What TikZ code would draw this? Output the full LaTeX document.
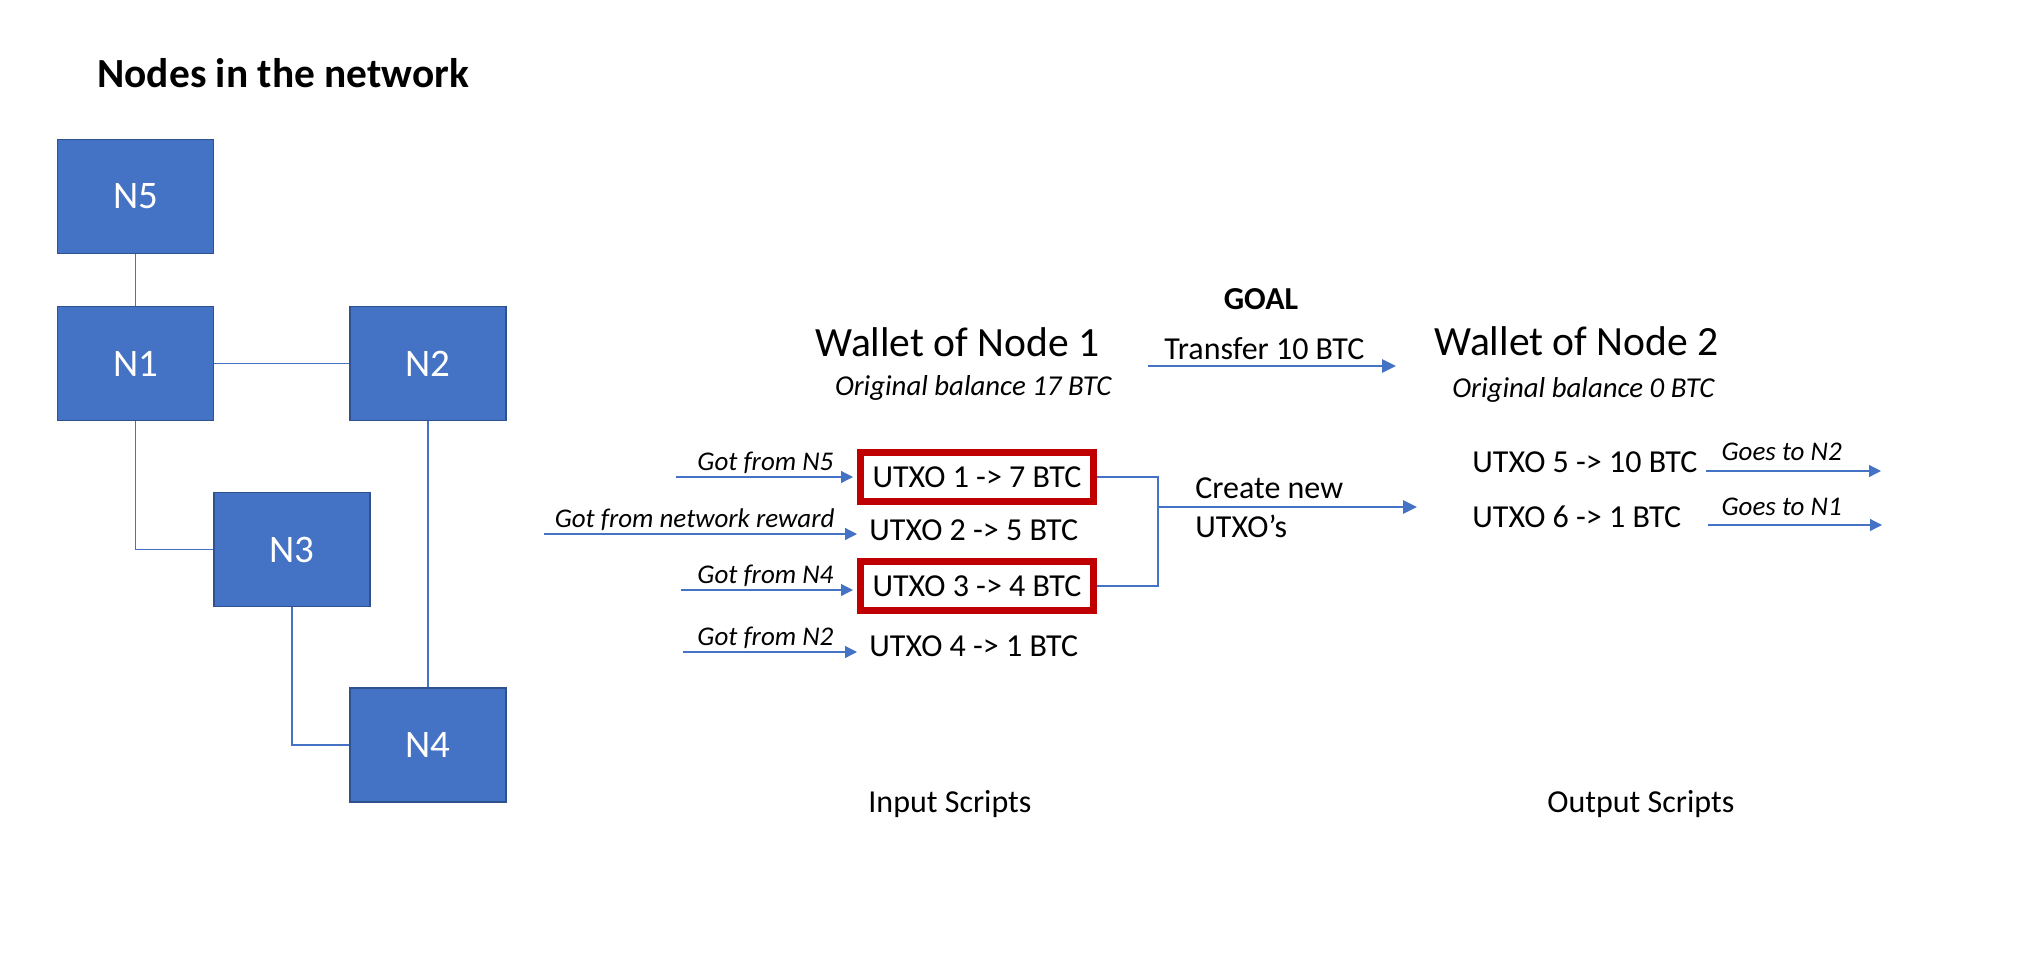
\documentclass[tikz,border=0pt]{standalone}
\usepackage{fontspec}
\setmainfont{Carlito}
\usetikzlibrary{arrows.meta,calc}
\definecolor{netblue}{HTML}{4472C4}
\definecolor{netedge}{HTML}{2F528F}
\definecolor{utxored}{HTML}{C00000}
\newcommand{\fsz}[1]{\fontsize{#1pt}{#1pt}\selectfont}

\begin{document}
\begin{tikzpicture}[x=0.5pt, y=-0.5pt,
    netbox/.style={rectangle, fill=netblue, draw=netedge, line width=0.6pt, minimum width=78pt, minimum height=57pt, text=white, font=\fsz{19.5}},
    netline/.style={netblue, line width=0.6pt},
    utxo/.style={anchor=west, inner xsep=6pt, inner ysep=0pt, minimum height=24.5pt, font=\fsz{16}},
    redbox/.style={draw=utxored, line width=3.5pt},
    txt/.style={inner sep=0pt, anchor=base west, text=black, font=\fsz{16}},
    gotlbl/.style={inner sep=0pt, text=black, font=\fsz{13.5}\itshape},
    thinarr/.style={netblue, line width=0.6pt, -{Triangle[length=6pt,width=6pt]}},
    thickarr/.style={netblue, line width=1.3pt, -{Triangle[length=7pt,width=6.5pt]}}]
    \useasboundingbox (0,0) rectangle (2036,960);

    % Halozat csomopontjai
    \node[txt, font=\fsz{20.7}\bfseries] (title) at (97,87) {Nodes in the network};
    \node[netbox] (N5) at (135.5,196.5) {N5};
    \node[netbox] (N1) at (135.5,363.5) {N1};
    \node[netbox] (N2) at (428,363.5) {N2};
    \node[netbox] (N3) at (292,549.5) {N3};
    \node[netbox] (N4) at (428,745) {N4};

    % Kapcsolatok
    \draw[netline] (N5) -- (N1);
    \draw[netline] (N1) -- (N2);
    \draw[netline] (N1.south) |- (N3.west);
    \draw[netline] (N3.south) |- (N4.west);
    \draw[netline] (N2) -- (N4);

    % Tarcak
    \node[txt, font=\fsz{20.8}] (w1) at (815,356) {Wallet of Node 1};
    \node[txt, anchor=base east, font=\fsz{14.4}\itshape] (b1) at (1112,395) {Original balance 17 BTC};
    \node[txt, anchor=base, font=\fsz{16}\bfseries] (goal) at (1261,309) {GOAL};
    \node[txt, font=\fsz{20.8}] (w2) at (1434,355) {Wallet of Node 2};
    \node[txt, font=\fsz{14.4}\itshape] (b2) at (1452,397) {Original balance 0 BTC};

    % Cel nyil
    \coordinate (g0) at (1148,366);
    \coordinate (g1) at (1396,366);
    \draw[thickarr] (g0) -- (g1) node[txt, pos=0, xshift=7.5pt, yshift=3.5pt] (trf) {Transfer 10 BTC};

    % Bemeno UTXO-k
    \node[utxo, redbox] (u1) at (857,477) {UTXO 1 -> 7 BTC};
    \node[utxo] (u2) at (857,530) {UTXO 2 -> 5 BTC};
    \node[utxo, redbox] (u3) at (857,586) {UTXO 3 -> 4 BTC};
    \node[utxo] (u4) at (857,646) {UTXO 4 -> 1 BTC};

    \coordinate (in1) at (676,477);
    \coordinate (in2) at (544,534);
    \coordinate (in3) at (681,590);
    \coordinate (in4) at (683,652);
    \draw[thinarr, shorten >=2pt] (in1) -- (in1 -| u1.west) node[gotlbl, pos=1, anchor=base east, xshift=-11.5pt, yshift=3.5pt] (gf1) {Got from N5};
    \draw[thinarr] (in2) -- (in2 -| u2.west) node[gotlbl, pos=1, anchor=base east, xshift=-11pt, yshift=3.5pt] (gf2) {Got from network reward};
    \draw[thinarr, shorten >=2pt] (in3) -- (in3 -| u3.west) node[gotlbl, pos=1, anchor=base east, xshift=-11.5pt, yshift=3.5pt] (gf3) {Got from N4};
    \draw[thinarr] (in4) -- (in4 -| u4.west) node[gotlbl, pos=1, anchor=base east, xshift=-11.5pt, yshift=3.5pt] (gf4) {Got from N2};

    % Osszevonas
    \coordinate (jn) at (1158,507);
    \coordinate (nw) at (1417,507);
    \draw[netblue, line width=1.3pt] (u1.east) -| (jn) |- (u3.east);
    \draw[thickarr] (jn) -- (nw);
    \node[txt] (cr1) at (1195,498) {Create new};
    \node[txt] (cr2) at (1195,537) {UTXO's};

    % Kimeno UTXO-k
    \node[txt] (u5) at (1472,472) {UTXO 5 -> 10 BTC};
    \node[txt] (u6) at (1472,527) {UTXO 6 -> 1 BTC};
    \coordinate (o5) at (1706,471);
    \coordinate (o5e) at (1881,471);
    \coordinate (o6) at (1708,525);
    \coordinate (o6e) at (1882,525);
    \draw[thinarr] (o5) -- (o5e) node[gotlbl, pos=0, anchor=base west, xshift=7.5pt, yshift=5.5pt] (gt2) {Goes to N2};
    \draw[thinarr] (o6) -- (o6e) node[gotlbl, pos=0, anchor=base west, xshift=6.5pt, yshift=5pt] (gt1) {Goes to N1};

    % Feliratok alul
    \node[txt] (insc) at (868,812) {Input Scripts};
    \node[txt] (outsc) at (1547,812) {Output Scripts};
\end{tikzpicture}
\end{document}
